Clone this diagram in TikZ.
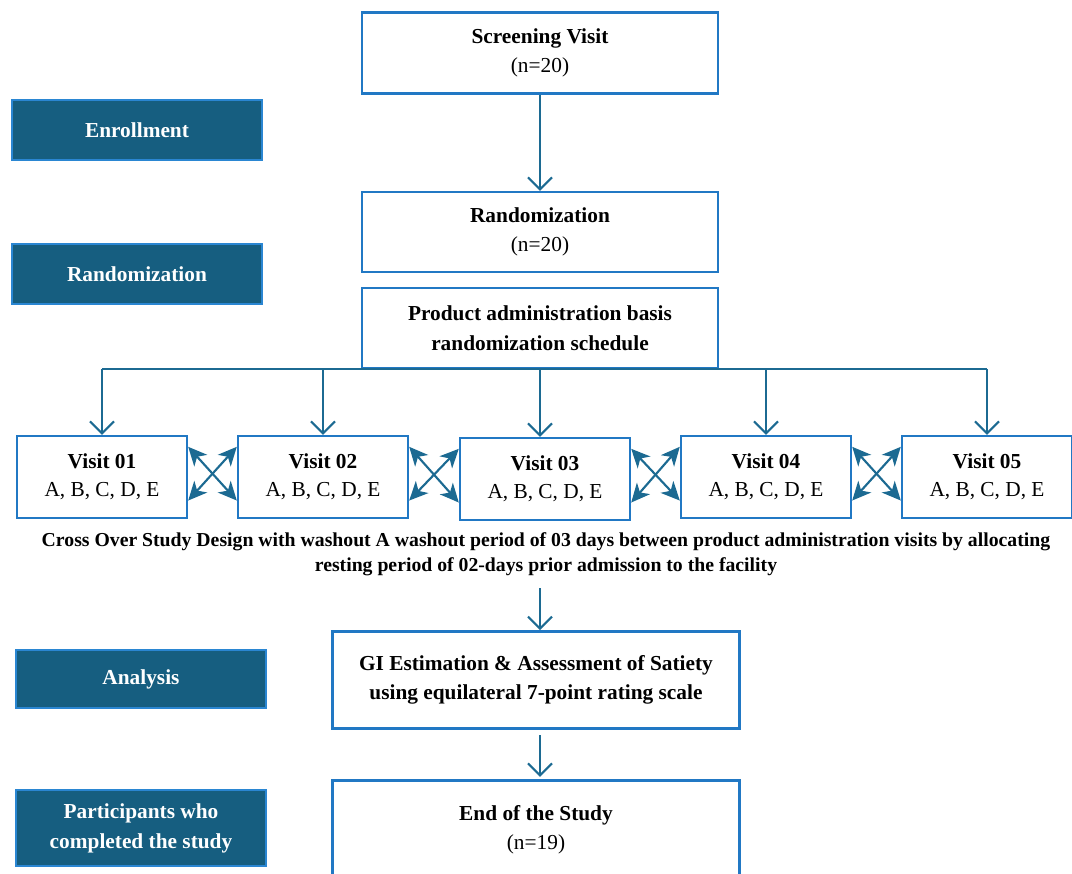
\documentclass[tikz,border=0pt]{standalone}
\usepackage{fontspec}
\setmainfont{Liberation Serif}
\usepackage{xcolor}
\usetikzlibrary{arrows.meta,positioning}

\definecolor{boxline}{HTML}{2178C4}
\definecolor{darkfill}{HTML}{165E80}
\definecolor{darkline}{HTML}{2A86D2}
\definecolor{flow}{HTML}{1C6A92}

\begin{document}
\begin{tikzpicture}[x=0.75pt, y=-0.75pt,
  stage/.style={draw=boxline, line width=1.8pt, fill=white, align=center,
    font=\fontsize{16}{21.75}\selectfont, minimum width=267pt, minimum height=61pt},
  phase/.style={draw=darkline, line width=1.5pt, fill=darkfill, text=white,
    align=center, font=\bfseries\fontsize{16}{22.5}\selectfont,
    minimum width=187pt, minimum height=45pt},
  visit/.style={draw=boxline, line width=1.8pt, fill=white, align=center,
    font=\fontsize{16}{21}\selectfont, minimum width=127.5pt, minimum height=61.5pt},
  flowline/.style={draw=flow, line width=1.6pt},
  down/.style={flowline, -{Straight Barb[length=9pt, width=18pt, line width=1.6pt]}},
  swap/.style={flowline, {Stealth[length=14pt, width=13pt, inset=4pt]}-{Stealth[length=14pt, width=13pt, inset=4pt]}}
]
\useasboundingbox (0,0) rectangle (1072,874);
\coordinate (axis) at (540,0);

% Phase labels on the left
\node[phase] (enrol) at (137,130) {Enrollment};
\node[phase] (randl) at (137,274) {Randomization};
\node[phase, minimum height=44pt] (anal) at (141,679) {Analysis};
\node[phase, minimum height=57pt] (done) at (141,828) {Participants who\\completed the study};

% Main flow
\node[stage] (screen) at (540,53) {\textbf{Screening Visit}\\(n=20)};
\node[stage, minimum height=60pt] (rand) at (540,232) {\textbf{Randomization}\\(n=20)};
\node[stage, minimum height=60pt, font=\bfseries\fontsize{16}{22.5}\selectfont] (prod) at (540,328)
  {Product administration basis\\randomization schedule};
\draw[down] (screen) -- (rand);

% Visits
\foreach \v/\x/\y in {1/102/477, 2/323/477, 3/545/479, 4/766/477, 5/987/477} {
  \node[visit] (visit\v) at (\x,\y) {\textbf{Visit 0\v}\\A, B, C, D, E};
}

% Distribution to the visits
\coordinate (busL) at (visit1.north |- prod.south);
\coordinate (busR) at (visit5.north |- prod.south);
\draw[flowline] (busL) -- (busR);
\draw[down] (prod.south) -- (prod.south |- visit3.north);
\foreach \v in {1,2,4,5} {
  \draw[down] (prod.south -| visit\v.north) -- (visit\v.north);
}

% Cross over between visits
\foreach \a/\b in {1/2, 2/3, 3/4, 4/5} {
  \draw[swap] ([yshift=-9pt]visit\a.north east) -- ([yshift=14pt]visit\b.south west);
  \draw[swap] ([yshift=14pt]visit\a.south east) -- ([yshift=-9pt]visit\b.north west);
}

\node[align=center, font=\bfseries\fontsize{14.8}{18.75}\selectfont] (note) at (546,554)
  {Cross Over Study Design with washout A washout period of 03 days between product administration visits by allocating\\
   resting period of 02-days prior admission to the facility};

\node[stage, minimum width=305pt, minimum height=73pt, font=\bfseries\fontsize{16}{21.75}\selectfont] (gi) at (536,680)
  {GI Estimation \& Assessment of Satiety\\using equilateral 7-point rating scale};
\node[stage, minimum width=305pt, minimum height=74pt] (end) at (536,830)
  {\textbf{End of the Study}\\(n=19)};

\draw[down] ([yshift=-6pt]note.south -| axis) -- (gi.north -| axis);
\draw[down] ([yshift=-4pt]gi.south -| axis) -- ([yshift=2pt]end.north -| axis);

\end{tikzpicture}
\end{document}
